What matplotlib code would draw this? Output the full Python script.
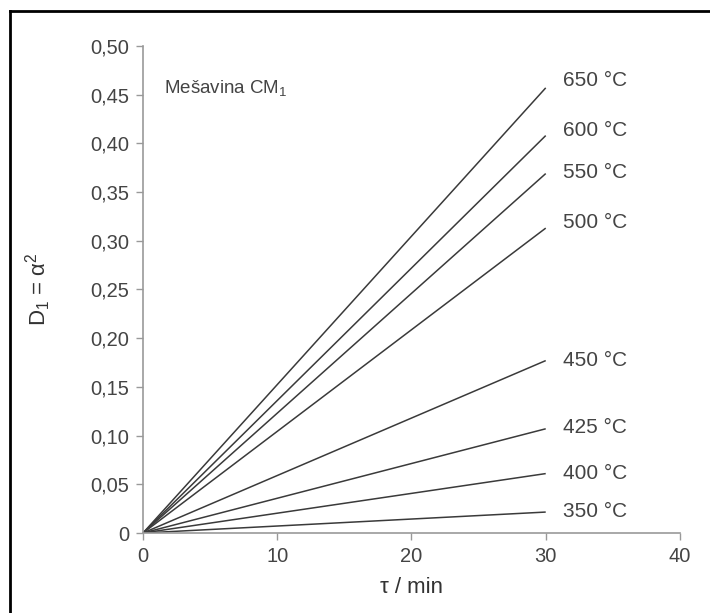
import numpy as np
import matplotlib
matplotlib.use("Agg")
import matplotlib.pyplot as plt
from matplotlib.lines import Line2D

plt.rcParams['font.family'] = ['Liberation Sans', 'DejaVu Sans']

# tau / min  (start and end of each line)
tau = [0, 30]
temps = ['650 °C', '600 °C', '550 °C', '500 °C', '450 °C', '425 °C', '400 °C', '350 °C']
d1_end = [0.457, 0.408, 0.369, 0.313, 0.177, 0.107, 0.061, 0.0215]
label_y = [0.465, 0.413, 0.370, 0.319, 0.177, 0.108, 0.061, 0.022]

x_ticks = [0, 10, 20, 30, 40]
y_ticks = [0, 0.05, 0.10, 0.15, 0.20, 0.25, 0.30, 0.35, 0.40, 0.45, 0.50]
y_ticklabels = ['0', '0,05', '0,10', '0,15', '0,20', '0,25', '0,30', '0,35', '0,40', '0,45', '0,50']

fig = plt.figure(figsize=(7.10, 6.13), dpi=100)
ax = fig.add_axes([0.2014, 0.1305, 0.7563, 0.7945])

for v in d1_end:
    ax.plot(tau, [0, v], color='#3a3a3a', lw=1.1, solid_capstyle='butt')

for t, y in zip(temps, label_y):
    ax.text(31.3, y, t, fontsize=15, color='#444444', va='center', ha='left')

ax.text(1.6, 0.456, 'Mešavina CM$_\\mathregular{1}$', fontsize=13.5, color='#444444', va='center')

ax.set_xlim(0, 40)
ax.set_ylim(0, 0.5)
ax.set_xticks(x_ticks)
ax.set_yticks(y_ticks)
ax.set_yticklabels(y_ticklabels)
ax.tick_params(direction='out', length=5, width=1, color='#999999',
               labelcolor='#444444', labelsize=14.5, pad=5)

for s in ['top', 'right']:
    ax.spines[s].set_visible(False)
for s in ['left', 'bottom']:
    ax.spines[s].set_color('#999999')
    ax.spines[s].set_linewidth(1.2)

ax.set_xlabel('τ / min', fontsize=16, color='#333333', labelpad=8)
ax.set_ylabel('D$_\\mathregular{1}$ = α$^\\mathregular{2}$', fontsize=16, color='#333333', labelpad=27)

# outer frame (only top and left edge visible in the crop)
fig.add_artist(Line2D([10 / 710, 1.0], [1 - 11 / 613, 1 - 11 / 613],
                      transform=fig.transFigure, color='black', lw=2))
fig.add_artist(Line2D([10 / 710, 10 / 710], [0, 1 - 11 / 613],
                      transform=fig.transFigure, color='black', lw=2))

fig.savefig('out.png', dpi=100, facecolor='white')
